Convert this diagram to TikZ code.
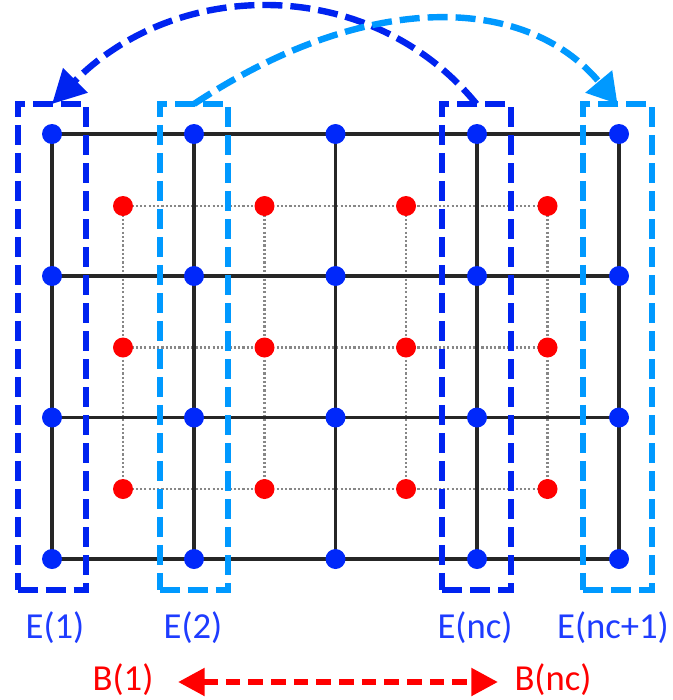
\documentclass[tikz,border=0pt]{standalone}
\usepackage{fontspec}
\setmainfont{Carlito}
\usetikzlibrary{arrows.meta}
\definecolor{dkblue}{RGB}{0,35,240}
\definecolor{ltblue}{RGB}{0,153,255}
\definecolor{dotblue}{RGB}{0,40,250}
\definecolor{lblblue}{RGB}{30,60,255}
\definecolor{myred}{RGB}{255,0,0}
\definecolor{dotgray}{RGB}{135,135,135}
\begin{document}
\begin{tikzpicture}[x=0.75pt,y=-0.75pt,
  bdot/.style={circle,fill=dotblue,minimum size=15pt,inner sep=0pt,outer sep=0pt},
  rdot/.style={circle,fill=myred,minimum size=15pt,inner sep=0pt,outer sep=0pt},
  gridline/.style={line width=2.4pt,black!85},
  dotline/.style={line width=1.6pt,dotgray,dash pattern=on 1.6pt off 1.6pt},
  ebox/.style={rectangle,line width=4.4pt,dash pattern=on 15pt off 6pt,minimum width=51.4pt,minimum height=364.5pt,inner sep=0pt,outer sep=0pt},
  arcline/.style={line width=4.8pt,dash pattern=on 15pt off 6pt},
  elabel/.style={text=lblblue,anchor=base,font=\fontsize{27.5}{32}\selectfont,inner sep=0pt},
  blabel/.style={text=myred,anchor=base,font=\fontsize{27.5}{32}\selectfont,inner sep=0pt},
  redarrow/.style={myred,line width=4.6pt,dash pattern=on 11pt off 6pt,{Triangle[length=20pt,width=20pt]}-{Triangle[length=20pt,width=20pt]}}
]
\useasboundingbox (0,0) rectangle (672,700);
% coordinates
\foreach \i/\x in {1/52,2/194,3/335.5,4/477,5/619}
  \foreach \j/\y in {1/134,2/276,3/417.5,4/559}
    \coordinate (g\i\j) at (\x,\y);
\foreach \i/\x in {1/123,2/264.5,3/406,4/547.5}
  \foreach \j/\y in {1/206,2/347.5,3/489}
    \coordinate (r\i\j) at (\x,\y);
% gray dotted lines
\foreach \j in {1,2,3} \draw[dotline] (r1\j) -- (r4\j);
\foreach \i in {1,2,3,4} \draw[dotline] (r\i1) -- (r\i3);
% black grid
\foreach \j in {1,2,3,4} \draw[gridline] (g1\j) -- (g5\j);
\foreach \i in {1,2,3,4,5} \draw[gridline] (g\i1) -- (g\i4);
% dots
\foreach \i in {1,...,5} \foreach \j in {1,...,4} \node[bdot] (b\i\j) at (g\i\j) {};
\foreach \i in {1,...,4} \foreach \j in {1,...,3} \node[rdot] (rd\i\j) at (r\i\j) {};
% boxes
\node[ebox,draw=dkblue] (E1) at (52,347) {};
\node[ebox,draw=ltblue] (E2) at (194,347) {};
\node[ebox,draw=dkblue] (Enc) at (476.5,347) {};
\node[ebox,draw=ltblue] (Encp) at (617.5,347) {};
% arcs
\draw[arcline,dkblue,-{Triangle[length=25pt,width=25pt]}] (Enc.north) .. controls (372,-24) and (179,-24) .. (E1.north);
\draw[arcline,ltblue,-{Triangle[length=22pt,width=25pt]}] (E2.north) .. controls (363,-8) and (524,-8) .. (Encp.north);
% labels
\node[elabel] (LE1) at (55,638) {E(1)};
\node[elabel] (LE2) at (193,638) {E(2)};
\node[elabel] (LEnc) at (475,638) {E(nc)};
\node[elabel] (LEncp) at (613,638) {E(nc+1)};
\node[blabel] (LB1) at (123,690) {B(1)};
\node[blabel] (LBnc) at (553,690) {B(nc)};
\coordinate (ra) at (178,682);
\coordinate (rb) at (498,682);
\draw[redarrow] (ra) -- (rb);
\end{tikzpicture}
\end{document}
